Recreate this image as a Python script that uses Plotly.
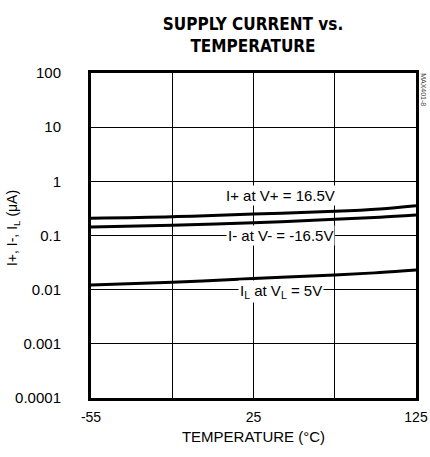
import math
import plotly.graph_objects as go

# Data
temp_plus = [-55, -10, 35, 80, 105, 125]
i_plus = [0.208, 0.222, 0.249, 0.280, 0.31, 0.355]
temp_minus = [-55, -10, 35, 80, 105, 125]
i_minus = [0.1435, 0.154, 0.172, 0.199, 0.218, 0.239]
temp_l = [-55, -10, 35, 80, 105, 125]
i_l = [0.0122, 0.0137, 0.0160, 0.0187, 0.0207, 0.0231]

x_tickvals = [-55, 35, 125]
x_ticktext = ["-55", "25", "125"]
x_minor_grid = [-10, 80]
y_tickvals = [0.0001, 0.001, 0.01, 0.1, 1, 10, 100]
y_ticktext = ["0.0001", "0.001", "0.01", "0.1", "1", "10", "100"]

labels = ["I+ at V+ = 16.5V", "I- at V- = -16.5V", "I<sub>L</sub> at V<sub>L</sub> = 5V"]
label_y = [0.54, 0.1, 0.01]

COND = "DejaVu Sans Condensed, Liberation Sans Narrow, Liberation Sans, sans-serif"
REG = "Liberation Sans, Arial, sans-serif"

fig = go.Figure()
for xs, ys in [(temp_plus, i_plus), (temp_minus, i_minus), (temp_l, i_l)]:
    fig.add_trace(go.Scatter(x=xs, y=ys, mode="lines", line=dict(color="black", width=3, shape="spline"),
                             showlegend=False, hoverinfo="skip"))

ann_font = dict(family=REG, size=15, color="black")
shifts = [0, 0, -2]
for txt, yv, sh in zip(labels, label_y, shifts):
    fig.add_annotation(x=50, y=math.log10(yv), xref="x", yref="y", text=txt, showarrow=False,
                       font=ann_font, bgcolor="white", borderpad=1, yshift=sh)

fig.add_annotation(xref="paper", yref="paper", x=1.025, y=0.95, xanchor="center", yanchor="middle",
                   text="MAX401-8", textangle=90, showarrow=False,
                   font=dict(family=REG, size=7, color="#444"))

# y-axis title as rotated text
fig.add_annotation(xref="paper", yref="paper", x=-0.24, y=0.523, xanchor="center", yanchor="middle",
                   text="I+, I-, I<sub>L</sub> (μA)", textangle=-90, showarrow=False,
                   font=dict(family=REG, size=14, color="black"))

fig.update_layout(
    width=430, height=457,
    margin=dict(l=91, r=14, t=73, b=59),
    paper_bgcolor="white", plot_bgcolor="white",
    title=dict(text="<b>SUPPLY CURRENT vs.<br>TEMPERATURE</b>", x=253 / 430, xanchor="center",
               xref="container", yref="container", y=1 - 30 / 457, yanchor="top",
               font=dict(family=COND, size=17, color="black")),
)
fig.update_xaxes(range=[-55, 125], tickmode="array", tickvals=x_tickvals, ticktext=x_ticktext,
                 showgrid=True, gridcolor="black", gridwidth=1, zeroline=False, automargin=False,
                 minor=dict(tickmode="array", tickvals=x_minor_grid, showgrid=True,
                            gridcolor="black", gridwidth=1, ticks=""),
                 showline=True, mirror=True, linecolor="black", linewidth=3, ticks="",
                 tickfont=dict(family=REG, size=14, color="black"), ticklabelstandoff=4,
                 title=dict(text="TEMPERATURE (°C)", font=dict(family=REG, size=15, color="black"), standoff=8))
fig.update_yaxes(type="log", range=[-4, 2], tickmode="array", tickvals=y_tickvals, ticktext=y_ticktext,
                 showgrid=True, gridcolor="black", gridwidth=1, zeroline=False, automargin=False,
                 showline=True, mirror=True, linecolor="black", linewidth=3, ticks="",
                 tickfont=dict(family=REG, size=15, color="black"), ticklabelstandoff=24)

fig.write_html("out.html", config={"displayModeBar": False},
               post_script="document.body.style.margin='0';")
